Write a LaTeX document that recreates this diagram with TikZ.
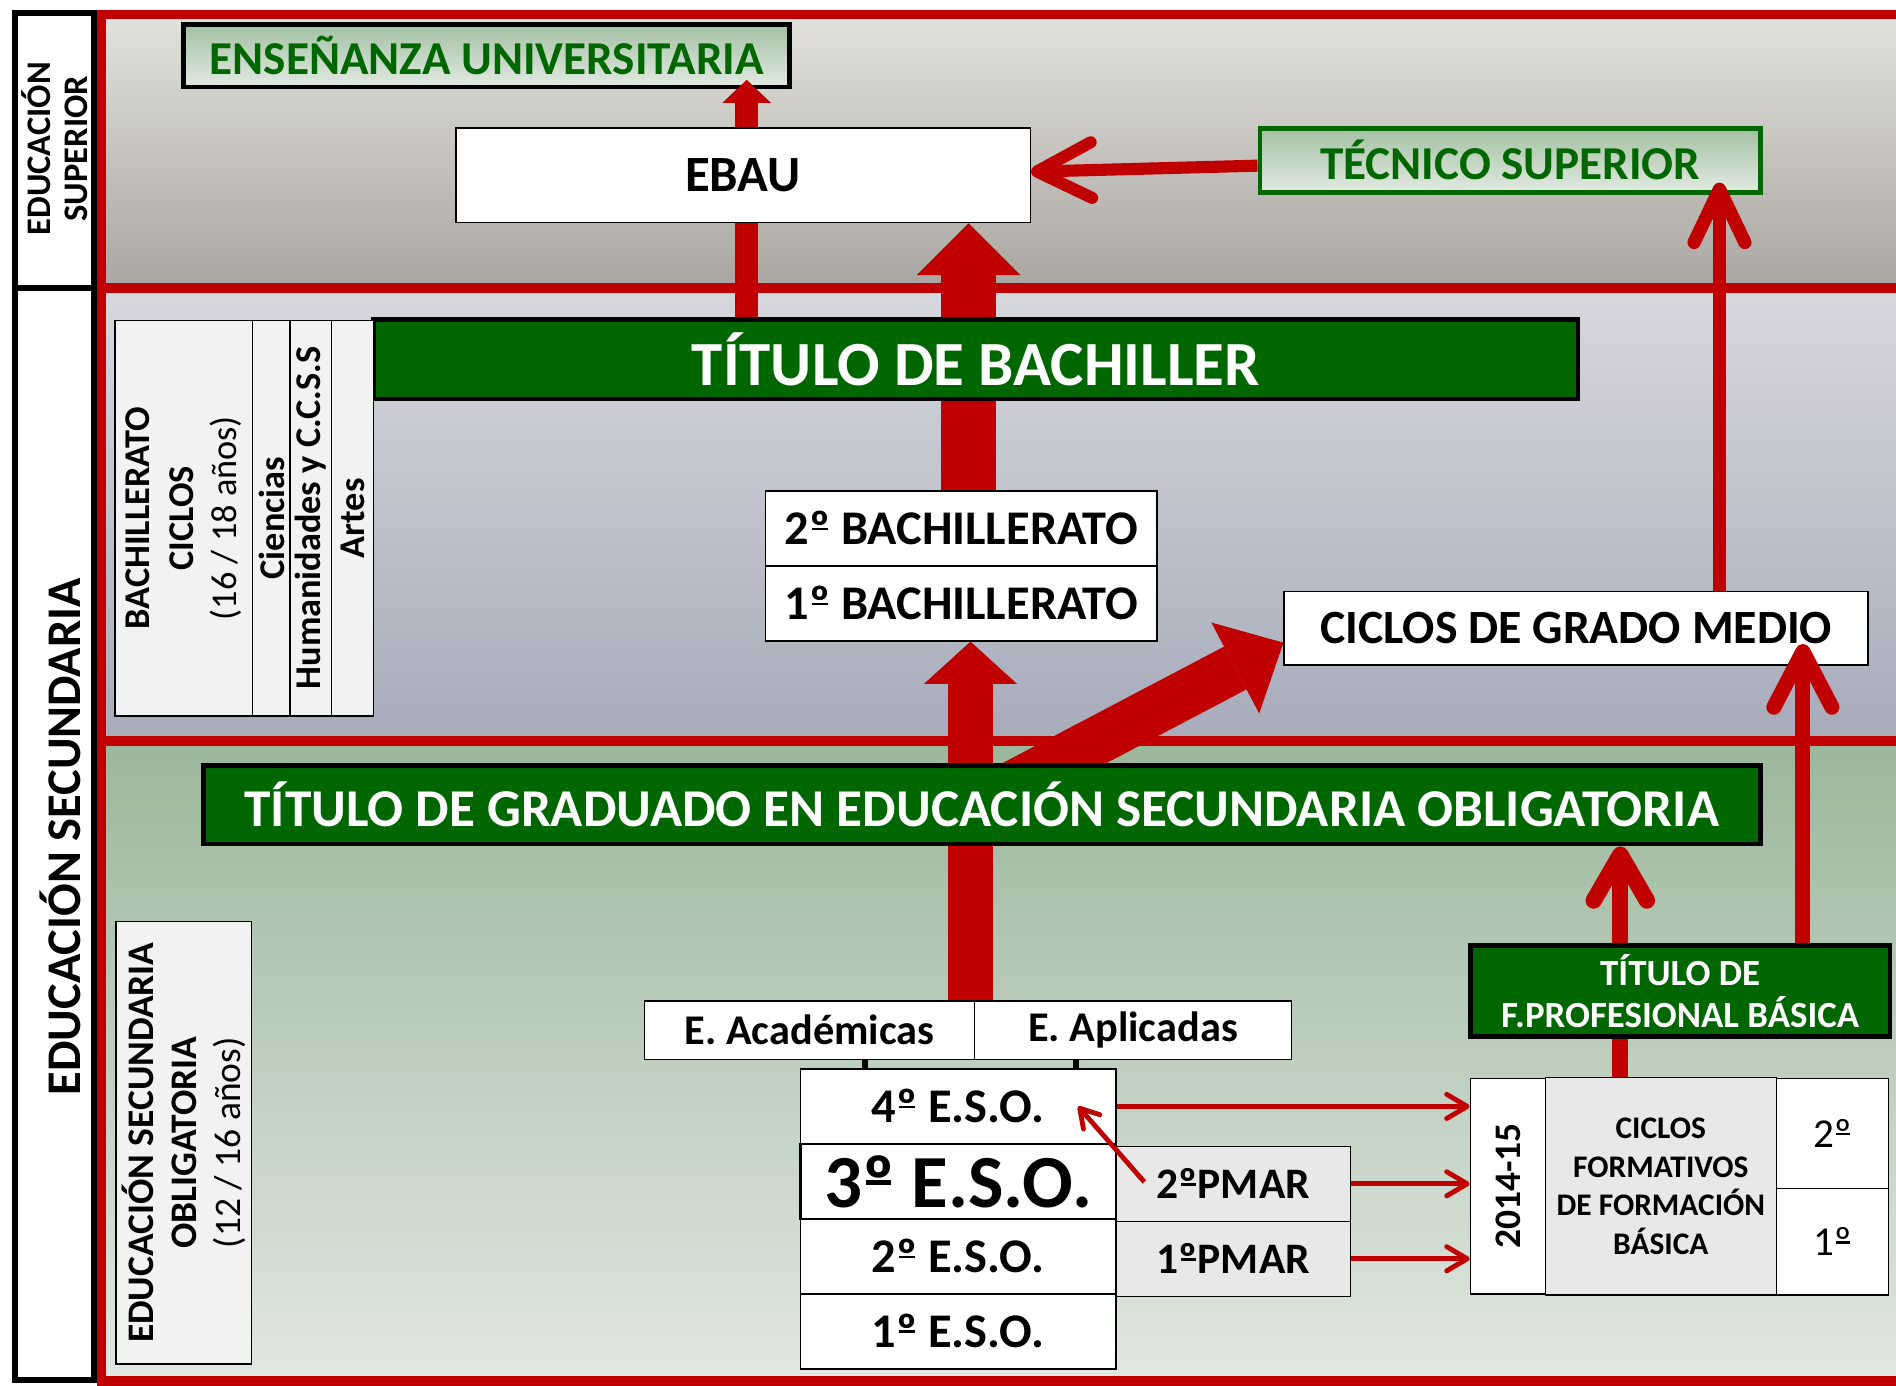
\documentclass[tikz,border=0pt]{standalone}
\usepackage{fontspec}
\setmainfont{Carlito}
\usetikzlibrary{arrows.meta, calc, backgrounds}

\definecolor{redpath}{RGB}{192,0,0}
\definecolor{titgreen}{RGB}{0,102,0}
\definecolor{cellgray}{RGB}{242,242,242}
\definecolor{pmargray}{RGB}{232,232,232}
\definecolor{supertop}{RGB}{226,226,221}
\definecolor{superbot}{RGB}{170,165,160}
\definecolor{bachtop}{RGB}{215,216,222}
\definecolor{bachbot}{RGB}{167,171,186}
\definecolor{esotop}{RGB}{155,183,155}
\definecolor{esobot}{RGB}{225,231,225}
\definecolor{palegreen}{RGB}{163,192,163}
\definecolor{palelight}{RGB}{226,234,226}

% ordinal sign with its bar, as printed
\newsavebox{\ordbox}
\newcommand{\ordo}{\sbox{\ordbox}{º}\rlap{\hspace{0.12\wd\ordbox}\rule[0.3em]{0.76\wd\ordbox}{0.06em}}\usebox{\ordbox}}

\tikzset{
  whitebox/.style={draw=black, line width=1.2pt, fill=white, inner sep=0pt,
    font=\bfseries\fontsize{#1}{#1}\selectfont},
  graybox/.style={whitebox=#1, fill=pmargray},
  greenbox/.style={draw=black, line width=4pt, fill=titgreen, text=white, inner sep=0pt,
    font=\bfseries\fontsize{#1}{#1}\selectfont},
  lightbox/.style={top color=palegreen, bottom color=palelight, text=titgreen, inner sep=0pt,
    font=\bfseries\fontsize{#1}{#1}\selectfont},
  sidecol/.style={draw=black, line width=1.2pt, fill=cellgray, inner sep=0pt, rotate=90, align=center},
  band/.style={draw=redpath, line width=8pt, top color=#1top, bottom color=#1bot},
  blockarrow/.style={redpath, line width=#1},
  barbarrow/.style={redpath, line width=#1},
  thinarrow/.style={redpath, line width=4pt, -{Straight Barb[length=17pt, width=20pt, round]}}
}

\begin{document}
\begin{tikzpicture}[x=1pt, y=-1pt]
  \useasboundingbox (0,0) rectangle (1568,1146);

  % left column
  \draw[line width=5pt, fill=white] (12.5,10.5) rectangle (77.5,1141);
  \draw[line width=5pt] (12.5,238) -- (77.5,238);
  \node[rotate=90, align=center, font=\bfseries\fontsize{28.5}{31}\selectfont] (edusup) at (45,123) {EDUCACIÓN\\SUPERIOR};
  \node[rotate=90, font=\bfseries\fontsize{40}{40}\selectfont] (edusec) at (50,692) {EDUCACIÓN SECUNDARIA};

  % educacion superior
  \node[lightbox=39, draw=black, line width=4pt, minimum width=501pt, minimum height=52pt] (univ) at (402.5,46) {ENSEÑANZA UNIVERSITARIA};
  \node[lightbox=39, draw=titgreen, line width=4pt, minimum width=414pt, minimum height=53pt] (tecsup) at (1249,132.5) {TÉCNICO SUPERIOR};

  % bachillerato
  \node[greenbox=52, minimum width=996pt, minimum height=66pt] (titbach) at (807,297) {TÍTULO DE BACHILLER};
  \coordinate (upuniv) at ([xshift=-189.5pt]titbach.north);
  \coordinate (univbase) at (upuniv |- univ.south);
  \draw[blockarrow=19pt, -{Triangle[length=19pt, width=40pt, line width=0pt]}] (upuniv) -- ([yshift=8pt]univbase);
  \node[whitebox=42, minimum width=475pt, minimum height=78pt] (ebau) at (614.5,145) {EBAU};
  \draw[barbarrow=10pt, -{Straight Barb[length=45pt, width=46pt, round]}] ([yshift=-4.5pt]tecsup.west) -- ([yshift=3pt]ebau.east);

  \node[whitebox=40, minimum width=324pt, minimum height=62pt] (bach2) at (795,437) {2\ordo{} BACHILLERATO};
  \node[whitebox=40, minimum width=324pt, minimum height=62pt] (bach1) at (795,499) {1\ordo{} BACHILLERATO};
  \node[whitebox=39.5, minimum width=483pt, minimum height=61pt] (cgm) at (1303.5,519.5) {CICLOS DE GRADO MEDIO};
  \node[sidecol, minimum width=327pt, minimum height=114pt, font=\fontsize{30}{36}\selectfont] (bachcol) at (152,428.5)
    {\textbf{BACHILLERATO}\\\textbf{CICLOS}\\(16 / 18 años)};
  \node[sidecol, minimum width=327pt, minimum height=31pt, font=\bfseries\fontsize{30}{30}\selectfont] (cienc) at (224.5,428.5) {Ciencias};
  \node[sidecol, minimum width=327pt, minimum height=34pt, font=\bfseries\fontsize{30}{30}\selectfont] (human) at (257,428.5) {Humanidades y C.C.S.S};
  \node[sidecol, minimum width=327pt, minimum height=35pt, font=\bfseries\fontsize{30}{30}\selectfont] (artes) at (291.5,428.5) {Artes};

  \coordinate (uptec) at ([xshift=118.5pt]cgm.north);
  \coordinate (tecbase) at (uptec |- tecsup.south);
  \draw[barbarrow=11pt, -{Straight Barb[length=44pt, width=42pt, round]}] (uptec) -- ([yshift=10pt]tecbase);

  % eso
  \node[greenbox=44, minimum width=1288pt, minimum height=65pt] (titeso) at (812,665.5) {TÍTULO DE GRADUADO EN EDUCACIÓN SECUNDARIA OBLIGATORIA};
  \node[sidecol, minimum width=366pt, minimum height=112pt, font=\fontsize{31}{36}\selectfont] (esocol) at (152,945)
    {\textbf{EDUCACIÓN SECUNDARIA}\\\textbf{OBLIGATORIA}\\(12 / 16 años)};
  \node[whitebox=35, minimum width=273pt, minimum height=48pt] (eacad) at (669.5,852) {E. Académicas};
  \node[whitebox=35, minimum width=262pt, minimum height=48pt] (eapl) at (937,852) {E. Aplicadas};
  \node[whitebox=40, minimum width=261pt, minimum height=62pt] (eso4) at (792.5,915) {4\ordo{} E.S.O.};
  \node[whitebox=62, line width=2pt, minimum width=261pt, minimum height=62pt] (eso3) at (792.5,977) {3\ordo{} E.S.O.};
  \node[whitebox=40, minimum width=261pt, minimum height=62pt] (eso2) at (792.5,1039) {2\ordo{} E.S.O.};
  \node[whitebox=40, minimum width=261pt, minimum height=62pt] (eso1) at (792.5,1101) {1\ordo{} E.S.O.};
  \coordinate (tickacad) at ([xshift=45.5pt]eacad.south);
  \coordinate (tickapl) at ([xshift=-47pt]eapl.south);
  \draw[line width=5pt] (tickacad) -- (tickacad |- eso4.north);
  \draw[line width=5pt] (tickapl) -- (tickapl |- eso4.north);

  \node[graybox=36, minimum width=194pt, minimum height=62pt] (pmar2) at (1020,979) {2\ordo PMAR};
  \node[graybox=36, minimum width=194pt, minimum height=62pt] (pmar1) at (1020,1041) {1\ordo PMAR};

  % formacion profesional basica
  \node[whitebox=31, rotate=90, minimum width=178pt, minimum height=62pt] (year) at (1247,981) {2014-15};
  \node[graybox=26, align=center, font=\bfseries\fontsize{26}{32}\selectfont, minimum width=191pt, minimum height=180pt] (cfb) at (1373.5,981) {CICLOS\\FORMATIVOS\\DE FORMACIÓN\\BÁSICA};
  \node[whitebox=34, font=\fontsize{34}{34}\selectfont, minimum width=93pt, minimum height=91pt] (fp2) at (1515.5,937.5) {2\ordo};
  \node[whitebox=34, font=\fontsize{34}{34}\selectfont, minimum width=93pt, minimum height=88pt] (fp1) at (1515.5,1027) {1\ordo};
  \node[greenbox=30.5, align=center, font=\bfseries\fontsize{30.5}{35}\selectfont, minimum width=347pt, minimum height=75pt] (titfp) at (1389.5,819.5) {TÍTULO DE\\F.PROFESIONAL BÁSICA};

  \draw[thinarrow] (eso4.east) -- (eso4.east -| year.north);
  \draw[thinarrow] (pmar2.east) -- (pmar2.east -| year.north);
  \draw[thinarrow] (pmar1.east) -- (pmar1.east -| year.north);
  \draw[redpath, line width=4pt, -{Straight Barb[length=15pt, width=18pt, round]}] ([xshift=24pt, yshift=1.5pt]pmar2.west) -- ([xshift=-32pt]eso4.east);

  \coordinate (upcgm) at ([xshift=101.5pt]titfp.north);
  \coordinate (cgmbase) at (upcgm |- cgm.south);
  \draw[barbarrow=12.5pt, -{Straight Barb[length=46pt, width=48pt, round]}] (upcgm) -- ([yshift=18pt]cgmbase);

  \begin{scope}[on background layer]
    \draw[band=super] (84,12) rectangle (1600,238);
    \draw[band=bach] (84,238) rectangle (1600,613);
    \draw[band=eso] (84,613) rectangle (1600,1142);
    % arrows behind the boxes
    \coordinate (upbach) at ([xshift=6pt]bach2.north);
    \draw[blockarrow=46pt, -{Triangle[length=43pt, width=86pt, line width=0pt]}] (upbach) -- (upbach |- ebau.south);
    \coordinate (upeso) at ([xshift=-4pt]eacad.north east);
    \draw[blockarrow=37pt, -{Triangle[length=35pt, width=77pt, line width=0pt]}] (upeso) -- (upeso |- bach1.south);
    \draw[blockarrow=40pt, -{Triangle[length=45pt, width=85pt, line width=0pt]}] ($(titeso.north)+(7,28)$) -- ([yshift=-12pt]cgm.west);
    \coordinate (upfpb) at ([xshift=-33.5pt]cfb.north);
    \draw[barbarrow=13.5pt, -{Straight Barb[length=38pt, width=44pt, round]}] (upfpb) -- (upfpb |- titeso.south);
  \end{scope}
\end{tikzpicture}
\end{document}
